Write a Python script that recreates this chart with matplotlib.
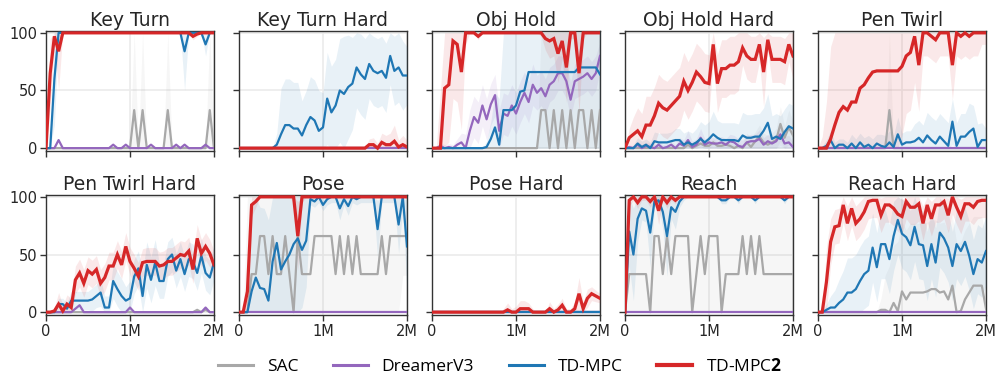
import numpy as np
import matplotlib
matplotlib.use("Agg")
import matplotlib.pyplot as plt
from matplotlib.lines import Line2D

# evaluation every 50k env steps, 0 .. 2M
steps = np.arange(0, 2_000_001, 50_000)

tasks = ["Key Turn", "Key Turn Hard", "Obj Hold", "Obj Hold Hard", "Pen Twirl",
         "Pen Twirl Hard", "Pose", "Pose Hard", "Reach", "Reach Hard"]
methods = ["SAC", "DreamerV3", "TD-MPC", "TD-MPC2"]

# ---- success rate (%) per task ----
key_turn_sac = [0,0,0,0,0,0,0,0,0,0, 0,0,0,0,0,0,0,0,0,0, 0,33,0,33,0,0,0,0,0,33, 0,0,0,0,0,0,0,0,0,33, 0]
key_turn_dreamer = [0,0,0,7,0,0,0,0,0,0, 0,0,0,0,0,0,3,0,0,3, 0,0,0,0,0,3,0,0,0,0, 0,3,0,3,0,0,0,0,3,0, 0]
key_turn_tdmpc = [0,0,60,100,100,100,100,100,100,100, 100,100,100,100,100,100,100,100,100,100, 100,100,100,100,100,100,100,100,100,100, 100,100,100,84,100,100,100,100,90,100, 100]
key_turn_tdmpc2 = [0,65,97,84,100,100,100,100,100,100, 100,100,100,100,100,100,100,100,100,100, 100,100,100,100,100,100,100,100,100,100, 100,100,100,100,100,97,99,100,100,100, 100]

kth_sac = [0,0,0,0,0,0,0,0,0,0, 0,0,0,0,0,0,0,0,0,0, 0,0,0,0,0,0,0,0,0,0, 0,0,0,0,0,0,0,0,0,0, 0]
kth_dreamer = [0,0,0,0,0,0,0,0,0,0, 0,0,0,0,0,0,0,0,0,0, 0,0,0,0,0,0,0,0,0,0, 0,0,0,0,0,0,0,0,0,0, 0]
kth_tdmpc = [0,0,0,0,0,0,0,0,0,3, 12,20,20,17,17,11,20,27,24,15, 18,43,31,37,50,47,53,56,70,64, 60,73,67,65,67,61,80,67,70,63, 63]
kth_tdmpc2 = [0,0,0,0,0,0,0,0,0,0, 0,0,0,0,0,0,0,0,0,0, 0,0,0,0,0,0,0,0,0,0, 0,3,3,0,5,3,3,6,1,3, 1]

oh_sac = [0,0,0,0,0,0,0,0,0,0, 0,0,0,0,0,0,0,0,0,0, 0,0,0,0,0,0,33,33,0,33, 0,33,0,33,0,33,33,0,33,0, 33]
oh_dreamer = [0,0,2,0,1,0,3,5,0,15, 27,22,37,25,38,46,15,30,28,37, 30,40,48,40,55,48,52,45,55,58, 65,65,58,42,58,60,62,65,60,65, 80]
oh_tdmpc = [0,0,0,0,0,0,0,0,0,0, 0,0,0,1,8,18,3,33,33,33, 37,49,50,66,66,66,66,66,66,66, 66,66,66,66,66,70,70,70,70,70, 64]
oh_tdmpc2 = [0,0,0,52,55,93,90,66,100,100, 100,97,100,100,100,100,100,100,100,100, 100,100,100,100,100,100,100,95,93,95, 82,93,70,100,100,65,100,100,100,100, 100]

ohh_sac = [0,0,0,0,0,0,0,0,0,0, 0,0,0,0,0,3,0,2,4,2, 2,5,2,2,3,2,0,2,0,5, 1,6,10,5,3,5,7,21,9,18, 11]
ohh_dreamer = [0,1,0,3,0,2,1,0,3,0, 1,3,0,4,2,7,1,3,9,3, 5,4,4,5,3,6,5,2,1,5, 6,6,8,3,6,4,6,12,4,5, 1]
ohh_tdmpc = [0,0,0,4,1,3,0,6,5,5, 5,6,7,7,3,5,3,5,8,5, 8,12,9,7,7,7,7,6,11,9, 9,10,10,15,22,8,10,8,14,19, 17]
ohh_tdmpc2 = [0,9,12,15,10,20,20,28,39,35, 33,37,41,45,58,50,57,66,62,57, 56,90,56,69,69,72,72,75,87,80, 77,77,90,66,94,77,77,77,75,90, 80]

pt_sac = [0,0,0,0,0,0,0,0,0,0, 0,0,0,0,0,0,0,33,0,0, 0,0,0,0,0,0,0,0,0,0, 0,0,0,0,0,0,0,0,0,0, 0]
pt_dreamer = [0,0,0,0,0,0,0,0,0,0, 0,0,0,0,0,0,0,0,0,0, 0,0,0,0,0,0,0,0,0,0, 0,0,0,0,0,0,0,0,0,0, 0]
pt_tdmpc = [0,0,2,7,0,3,3,0,4,0, 5,1,3,0,4,2,1,5,1,12, 3,5,5,6,9,5,11,7,4,10, 6,2,23,2,10,10,14,17,1,7, 7]
pt_tdmpc2 = [0,0,0,8,20,31,36,33,40,40, 52,55,61,66,67,67,67,67,67,67, 71,80,83,97,72,100,100,97,94,100, 100,100,72,100,97,100,97,100,100,100, 100]

pth_sac = [0,0,0,0,0,0,0,0,0,0, 0,0,0,0,0,0,0,0,0,0, 0,0,0,0,0,0,0,0,0,0, 0,0,0,0,0,0,2,0,2,0, 0]
pth_dreamer = [0,0,0,0,0,0,0,3,6,0, 0,0,0,0,0,0,0,0,0,0, 4,0,0,0,0,0,0,0,0,0, 0,0,0,0,0,0,0,0,4,0, 0]
pth_tdmpc = [0,0,0,7,7,3,10,10,10,10, 10,11,14,17,4,4,27,20,14,10, 12,31,38,14,41,28,43,27,27,46, 50,36,46,33,46,44,34,49,34,30, 43]
pth_tdmpc2 = [0,0,1,7,1,7,4,28,34,25, 36,33,37,25,30,40,40,50,41,57, 44,38,31,43,44,44,44,40,41,44, 44,47,50,49,53,37,64,51,57,51, 41]

pose_sac = [0,0,0,33,33,66,66,33,66,33, 33,66,33,0,66,33,33,33,66,66, 66,66,66,33,66,33,66,33,66,33, 33,33,33,33,66,33,66,66,66,66, 66]
pose_dreamer = [0,0,0,0,0,0,0,0,0,0, 0,0,0,0,0,0,0,0,0,0, 0,0,0,0,0,0,0,0,0,0, 0,0,0,0,0,0,0,0,0,0, 0]
pose_tdmpc = [0,0,0,18,30,21,20,10,44,60, 37,44,50,59,64,54,62,98,96,100, 93,98,100,100,90,98,92,100,98,100, 100,100,100,72,100,100,100,100,76,100, 57]
pose_tdmpc2 = [0,0,18,93,96,100,100,100,100,100, 100,100,100,100,66,100,100,100,100,100, 100,100,100,100,100,100,100,100,100,100, 100,100,100,100,100,100,100,100,100,100, 100]

ph_sac = [0,0,0,0,0,0,0,0,0,0, 0,0,0,0,0,0,0,0,0,0, 0,0,0,0,0,0,0,0,0,0, 0,0,0,0,0,0,0,0,0,0, 0]
ph_dreamer = [0,0,0,0,0,0,0,0,0,0, 0,0,0,0,0,0,0,0,0,0, 0,0,0,0,0,0,0,0,0,0, 0,0,0,0,0,0,0,0,0,0, 0]
ph_tdmpc = [0,0,0,0,0,0,0,0,0,0, 0,0,0,0,0,0,0,0,0,0, 0,0,0,0,0,0,0,0,0,0, 0,0,0,0,0,0,0,0,0,0, 0]
ph_tdmpc2 = [0,0,0,0,0,0,0,0,0,0, 0,0,0,0,0,0,0,0,2,0, 0,3,3,3,0,0,0,0,3,0, 2,6,0,0,3,16,3,12,16,14, 12]

reach_sac = [0,33,33,33,33,33,0,66,66,33, 66,33,66,66,66,66,0,33,66,33, 66,66,66,0,33,33,33,33,66,33, 66,33,66,33,33,33,33,33,33,33, 33]
reach_dreamer = [0,0,0,0,0,0,0,0,0,0, 0,0,0,0,0,0,0,0,0,0, 0,0,0,0,0,0,0,0,0,0, 0,0,0,0,0,0,0,0,0,0, 0]
reach_tdmpc = [0,70,50,81,90,88,69,96,97,87, 66,91,87,96,100,100,100,100,100,100, 100,100,100,97,97,100,100,97,100,100, 100,97,100,100,100,100,100,100,97,100, 100]
reach_tdmpc2 = [0,97,100,95,100,100,96,100,88,100, 95,100,97,100,100,100,100,100,100,100, 100,100,100,100,100,100,100,100,100,100, 100,100,100,100,100,100,100,100,100,100, 100]

rh_sac = [0,0,0,0,0,0,0,0,0,0, 0,0,0,0,0,2,2,0,8,1, 18,11,17,17,17,17,18,20,20,17, 18,11,23,0,1,11,17,23,23,23, 3]
rh_dreamer = [0,0,0,0,0,0,0,0,0,0, 0,0,0,0,0,0,0,0,0,0, 0,0,0,0,0,0,0,0,0,0, 0,0,0,0,0,0,0,0,0,0, 0]
rh_tdmpc = [0,0,2,4,4,8,11,17,17,20, 27,33,36,56,39,59,59,46,66,80, 68,65,58,74,59,58,40,59,43,69, 64,56,40,59,53,61,49,33,46,43, 53]
rh_tdmpc2 = [0,0,26,61,74,75,93,77,90,77, 81,87,96,97,97,84,93,93,90,85, 83,96,91,91,94,77,93,81,93,93, 96,84,100,91,83,94,94,91,96,97, 97]

# ---- spread across seeds (shaded region = mean +/- spread, clipped to 0..100) ----
key_turn_sac_sd = [0,0,0,0,0,0,0,0,0,0, 0,0,0,0,0,0,0,0,0,0, 0,100,0,100,0,0,0,0,0,100, 0,0,0,0,0,0,0,0,0,100, 0]
key_turn_tdmpc_sd = [0,0,40,0,0,0,0,0,0,0, 0,0,0,0,0,0,0,0,0,0, 0,0,0,0,0,0,0,0,0,0, 0,0,0,34,0,0,0,0,10,0, 0]
key_turn_tdmpc2_sd = [0,30,3,34,0,0,0,0,0,0, 0,0,0,0,0,0,0,0,0,0, 0,0,0,0,0,0,0,0,0,0, 0,0,0,0,0,3,2,0,0,0, 0]

kth_tdmpc_sd = [0,0,0,0,0,0,0,0,0,10, 40,40,40,40,40,30,30,35,35,35, 30,40,40,40,45,50,45,40,35,35, 35,30,30,30,30,30,25,30,30,30, 25]
kth_tdmpc2_sd = [0,0,0,0,0,0,0,0,0,0, 0,0,0,0,0,0,0,0,0,0, 0,0,0,0,0,0,0,0,0,0, 0,5,6,4,8,8,10,14,6,8, 6]

oh_sac_sd = [0,0,0,0,0,0,0,0,0,0, 0,0,0,0,0,0,0,0,0,0, 0,0,0,0,0,0,100,100,100,100, 100,100,100,100,100,100,100,100,100,100, 100]
oh_dreamer_sd = [0,0,3,3,3,3,5,8,12,18, 18,18,18,18,18,18,18,18,18,18, 18,18,18,18,18,15,15,15,15,15, 15,15,15,15,15,15,15,15,15,15, 12]
oh_tdmpc_sd = [0,0,0,0,0,0,0,0,0,0, 0,0,0,5,15,30,40,70,70,70, 70,70,70,70,70,70,70,70,70,70, 70,70,70,70,70,70,70,70,70,70, 70]
oh_tdmpc2_sd = [0,0,50,50,50,50,50,50,10,0, 0,3,0,0,0,0,0,0,0,0, 0,0,0,0,0,0,3,10,15,15, 25,15,30,5,5,35,5,0,0,0, 0]

ohh_sac_sd = [0,0,0,0,0,0,0,0,0,0, 0,0,0,0,0,3,3,3,3,3, 3,3,3,3,3,3,3,3,3,8, 8,8,10,8,8,8,10,15,10,15, 12]
ohh_dreamer_sd = [0,2,2,3,3,3,3,3,3,3, 3,3,3,5,5,8,5,5,8,5, 5,5,5,5,5,6,6,6,6,6, 6,6,8,6,6,6,6,10,6,6, 4]
ohh_tdmpc_sd = [0,0,3,5,5,5,5,8,8,8, 8,8,10,10,10,10,10,12,15,15, 15,20,15,15,15,15,15,15,20,20, 20,20,20,20,25,20,20,20,20,20, 20]
ohh_tdmpc2_sd = [0,8,15,20,20,25,25,25,25,25, 25,25,25,25,25,25,25,25,25,25, 25,15,25,25,25,25,25,25,15,20, 20,20,15,30,10,20,20,20,20,15, 20]

pt_sac_sd = [0,0,0,0,0,0,0,0,0,0, 0,0,0,0,0,0,0,100,0,0, 0,0,0,0,0,0,0,0,0,0, 0,0,0,0,0,0,0,0,0,0, 0]
pt_tdmpc_sd = [0,2,5,8,5,5,5,5,8,8, 8,8,8,8,8,10,10,10,10,15, 10,10,10,15,15,15,20,20,20,20, 20,20,20,20,20,20,25,20,20,15, 10]
pt_tdmpc2_sd = [0,10,40,80,100,100,100,100,100,100, 100,100,100,100,100,100,100,100,100,100, 60,50,50,40,40,20,20,20,20,20, 20,20,30,20,20,20,20,20,20,10, 10]

pth_tdmpc_sd = [0,0,3,5,5,5,8,8,8,8, 8,10,10,12,10,10,15,15,15,12, 15,15,15,20,20,20,20,15,15,15, 15,15,15,15,15,15,15,15,15,15, 15]
pth_tdmpc2_sd = [0,0,3,10,5,8,8,12,12,12, 12,12,12,12,12,12,12,12,12,12, 12,12,12,12,12,12,12,12,12,12, 12,12,12,12,12,12,12,12,12,12, 12]

pose_sac_sd = [0,0,100,100,100,100,100,100,100,100, 100,100,100,100,100,100,100,100,100,100, 100,100,100,100,100,100,100,100,100,100, 100,100,100,100,100,100,100,100,100,34, 34]
pose_tdmpc_sd = [0,0,0,70,70,70,70,70,70,70, 70,70,70,70,70,50,40,5,5,5, 5,5,5,5,10,5,8,5,5,5, 5,5,5,25,5,5,5,5,25,10, 40]
pose_tdmpc2_sd = [0,0,15,10,5,0,0,0,0,0, 0,0,0,5,30,5,0,0,0,0, 0,0,0,0,0,0,0,0,0,0, 0,0,0,0,0,0,0,0,0,0, 0]

ph_tdmpc2_sd = [0,0,0,0,0,0,0,0,0,0, 0,0,0,0,0,0,0,3,6,3, 5,7,7,5,3,0,0,0,6,3, 5,6,3,3,6,14,6,8,6,5, 4]

reach_sac_sd = [0,100,100,100,100,100,100,100,100,100, 100,100,100,100,100,100,100,100,100,100, 100,100,100,100,100,100,100,100,100,100, 100,100,100,100,100,100,100,100,100,100, 100]
reach_tdmpc_sd = [0,30,40,20,10,10,30,5,5,15, 35,10,15,5,3,0,0,0,0,0, 0,0,0,3,3,0,0,3,0,0, 0,3,0,0,0,0,0,0,3,0, 0]
reach_tdmpc2_sd = [0,5,3,5,3,3,5,3,12,3, 5,3,3,0,0,0,0,0,0,0, 0,0,0,0,0,0,0,0,0,0, 0,0,0,0,0,0,0,0,0,0, 0]

rh_sac_sd = [0,0,0,0,0,0,0,0,0,0, 0,0,0,0,0,10,30,40,50,60, 60,60,60,60,60,60,60,60,60,60, 60,60,60,60,60,60,60,60,60,60, 60]
rh_tdmpc_sd = [0,0,5,10,15,20,25,30,30,30, 30,30,30,30,30,30,30,30,30,30, 30,30,30,30,30,30,30,30,30,30, 30,30,30,30,30,30,30,30,30,30, 30]
rh_tdmpc2_sd = [0,0,30,20,15,15,15,15,15,15, 15,15,15,15,15,15,15,15,15,15, 15,15,15,15,15,15,15,15,15,15, 15,15,15,15,15,15,15,15,15,15, 15]

results = {
    "Key Turn": [key_turn_sac, key_turn_dreamer, key_turn_tdmpc, key_turn_tdmpc2],
    "Key Turn Hard": [kth_sac, kth_dreamer, kth_tdmpc, kth_tdmpc2],
    "Obj Hold": [oh_sac, oh_dreamer, oh_tdmpc, oh_tdmpc2],
    "Obj Hold Hard": [ohh_sac, ohh_dreamer, ohh_tdmpc, ohh_tdmpc2],
    "Pen Twirl": [pt_sac, pt_dreamer, pt_tdmpc, pt_tdmpc2],
    "Pen Twirl Hard": [pth_sac, pth_dreamer, pth_tdmpc, pth_tdmpc2],
    "Pose": [pose_sac, pose_dreamer, pose_tdmpc, pose_tdmpc2],
    "Pose Hard": [ph_sac, ph_dreamer, ph_tdmpc, ph_tdmpc2],
    "Reach": [reach_sac, reach_dreamer, reach_tdmpc, reach_tdmpc2],
    "Reach Hard": [rh_sac, rh_dreamer, rh_tdmpc, rh_tdmpc2],
}
spreads = {
    "Key Turn": [key_turn_sac_sd, None, key_turn_tdmpc_sd, key_turn_tdmpc2_sd],
    "Key Turn Hard": [None, None, kth_tdmpc_sd, kth_tdmpc2_sd],
    "Obj Hold": [oh_sac_sd, oh_dreamer_sd, oh_tdmpc_sd, oh_tdmpc2_sd],
    "Obj Hold Hard": [ohh_sac_sd, ohh_dreamer_sd, ohh_tdmpc_sd, ohh_tdmpc2_sd],
    "Pen Twirl": [pt_sac_sd, None, pt_tdmpc_sd, pt_tdmpc2_sd],
    "Pen Twirl Hard": [None, None, pth_tdmpc_sd, pth_tdmpc2_sd],
    "Pose": [pose_sac_sd, None, pose_tdmpc_sd, pose_tdmpc2_sd],
    "Pose Hard": [None, None, None, ph_tdmpc2_sd],
    "Reach": [reach_sac_sd, None, reach_tdmpc_sd, reach_tdmpc2_sd],
    "Reach Hard": [rh_sac_sd, None, rh_tdmpc_sd, rh_tdmpc2_sd],
}

colors = ["#a8a8a8", "#9467bd", "#1f77b4", "#d62728"]
widths = [1.6, 1.6, 1.6, 2.3]

plt.rcParams["font.family"] = ["DejaVu Sans"]
plt.rcParams["mathtext.fontset"] = "custom"
plt.rcParams["mathtext.bf"] = "Open Sans:bold"
plt.rcParams["mathtext.rm"] = "Open Sans"

fig, axes = plt.subplots(2, 5, figsize=(10, 3.75), dpi=100, sharex=True, sharey=True)
fig.subplots_adjust(left=0.046, right=0.986, top=0.917, bottom=0.159, wspace=0.149, hspace=0.364)

for ax, task in zip(axes.flat, tasks):
    for k in range(4):
        y = np.array(results[task][k], dtype=float)
        sd = spreads[task][k]
        if sd is not None:
            sd = np.array(sd, dtype=float)
            ax.fill_between(steps, np.clip(y - sd, 0, 100), np.clip(y + sd, 0, 100),
                            color=colors[k], alpha=0.1, linewidth=0, zorder=1 + k)
        ax.plot(steps, y, color=colors[k], lw=widths[k], zorder=5 + k,
                solid_joinstyle="miter" if k == 3 else "round")
    ax.set_title(task, fontsize=13.5, pad=4, color="#262626", family="DejaVu Sans")
    ax.set_xlim(0, 2_000_000)
    ax.set_ylim(-2.8, 101.5)
    ax.set_xticks([0, 1_000_000, 2_000_000])
    ax.set_xticklabels(["0", "1M", "2M"])
    ax.set_yticks([0, 50, 100])
    ax.grid(True, color="#ebebeb", lw=1.2, zorder=0)
    ax.set_axisbelow(True)
    for s in ax.spines.values():
        s.set_color("#333333")
        s.set_linewidth(1.0)
    ax.tick_params(direction="out", length=4, width=1, color="#333333",
                   labelsize=10.5, labelcolor="#262626", pad=2)

handles = [Line2D([], [], color=c, lw=2.2 if i < 3 else 3) for i, c in enumerate(colors)]
labels = ["SAC", "DreamerV3", "TD-MPC", r"TD-MPC$\mathbf{2}$"]
fig.legend(handles, labels, loc="center", bbox_to_anchor=(0.5, 0.022), ncol=4,
           frameon=False, prop={"family": "Open Sans", "size": 12.5},
           handlelength=2.0, handletextpad=0.8, columnspacing=2.0)

fig.savefig("out.png", dpi=100)
